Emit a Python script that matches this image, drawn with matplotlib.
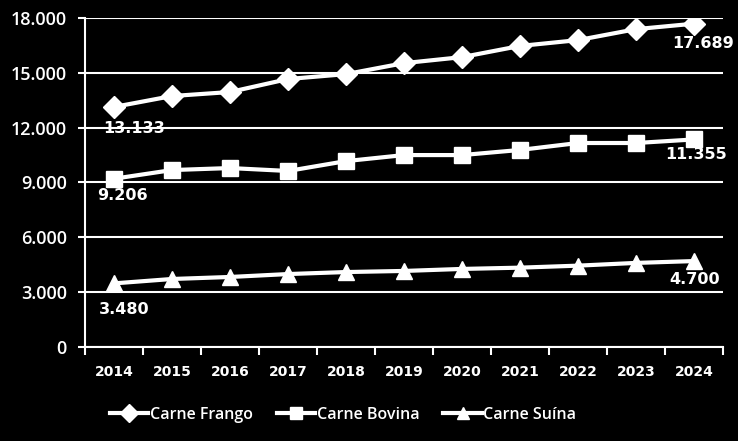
import numpy as np
import matplotlib.pyplot as plt

# Dados (mil toneladas)
anos = ["2014", "2015", "2016", "2017", "2018", "2019", "2020", "2021", "2022", "2023", "2024"]
frango = [13133, 13730, 13950, 14660, 14930, 15530, 15860, 16470, 16790, 17390, 17689]
bovina = [9206, 9680, 9790, 9630, 10170, 10500, 10500, 10780, 11160, 11160, 11355]
suina = [3480, 3720, 3830, 3990, 4100, 4160, 4270, 4340, 4450, 4600, 4700]

series = [("Carne Frango", frango, "D", 11),
          ("Carne Bovina", bovina, "s", 11),
          ("Carne Suína", suina, "^", 11)]

fig = plt.figure(figsize=(7.38, 4.41), dpi=100, facecolor="black")
ax = fig.add_axes([0.1152, 0.2132, 0.8645, 0.746])
ax.set_facecolor("black")

x = np.arange(len(anos))
for nome, vals, mk, ms in series:
    ax.plot(x, vals, color="white", lw=3, marker=mk, ms=ms, label=nome, zorder=3)

def fmt(v):
    return f"{v:,}".replace(",", ".")

# rótulos do primeiro e último ano (offset em pixels)
rotulos = [(frango, (20, -22), (9, -20)),
           (bovina, (8, -17), (2, -15)),
           (suina, (10, -26), (1, -18))]
for vals, off0, off1 in rotulos:
    for i, off in [(0, off0), (len(vals) - 1, off1)]:
        ax.annotate(fmt(vals[i]), (x[i], vals[i]), xytext=(off[0] * 0.72, off[1] * 0.72),
                    textcoords="offset points", ha="center", va="center",
                    color="white", fontsize=11.5, fontweight="bold",
                    family="DejaVu Sans", zorder=4)

ax.set_xlim(-0.5, len(anos) - 0.5)
ax.set_ylim(0, 18000)
ax.set_yticks(range(0, 18001, 3000))
ax.set_yticklabels([fmt(v) for v in range(0, 18001, 3000)], color="white",
                   fontsize=13, family="Open Sans", fontweight="semibold")
ax.set_xticks(x)
ax.set_xticklabels(anos, color="white", fontsize=10, fontweight="bold", family="DejaVu Sans")
ax.set_xticks(np.arange(-0.5, len(anos)), minor=True)
ax.tick_params(axis="x", which="major", length=0, pad=13)
ax.tick_params(axis="x", which="minor", length=6, width=1.5, color="white", direction="out")
ax.tick_params(axis="y", length=5, width=1.5, color="white", pad=8)

ax.grid(axis="y", color="white", lw=1.5)
ax.set_axisbelow(True)
for s in ["top", "right"]:
    ax.spines[s].set_visible(False)
for s in ["left", "bottom"]:
    ax.spines[s].set_color("white")
    ax.spines[s].set_linewidth(1.5)

leg = fig.legend(loc="center", bbox_to_anchor=(0.465, 0.059), ncol=3, frameon=False,
                 handlelength=2.4, handletextpad=0.1, columnspacing=1.5,
                 markerscale=0.8, prop={"family": "Open Sans", "size": 11.5, "weight": "semibold"})
for t in leg.get_texts():
    t.set_color("white")

fig.savefig("out.png", dpi=100, facecolor="black")
